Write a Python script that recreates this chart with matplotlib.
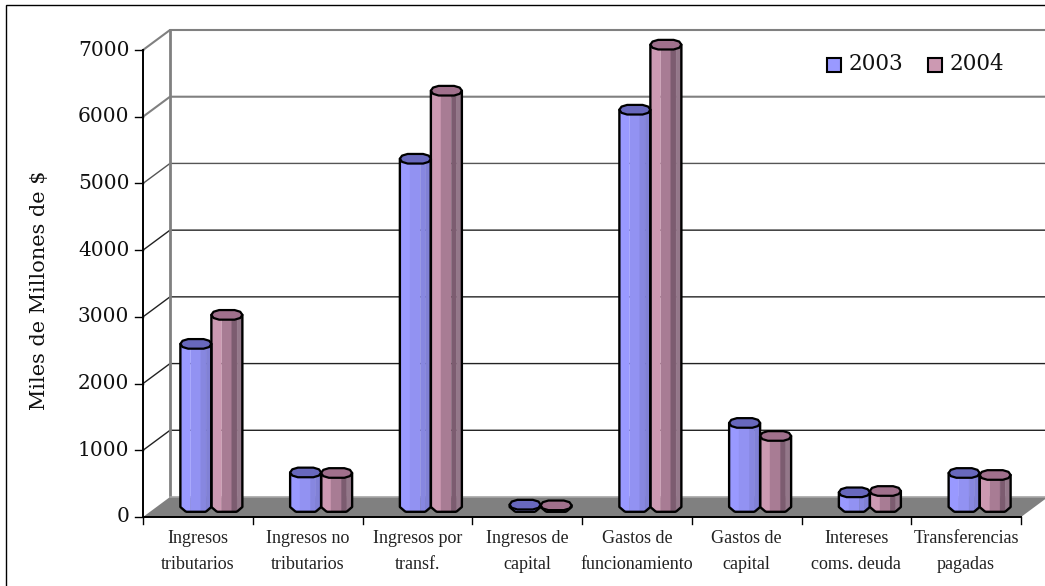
#Recreate the 3D cylinder bar chart (ingresos y gastos 2003-2004) with plain matplotlib
import numpy as np
import matplotlib
matplotlib.use('Agg')
import matplotlib.pyplot as plt
from matplotlib.patches import Polygon, Rectangle

categories = ['Ingresos\ntributarios', 'Ingresos no\ntributarios', 'Ingresos por\ntransf.',
              'Ingresos de\ncapital', 'Gastos de\nfuncionamiento', 'Gastos de\ncapital',
              'Intereses\ncoms. deuda', 'Transferencias\npagadas']
values_2003 = [2445, 518, 5220, 35, 5955, 1260, 220, 510]
values_2004 = [2880, 510, 6240, 25, 6930, 1065, 240, 480]
y_ticks = [0, 1000, 2000, 3000, 4000, 5000, 6000, 7000]

W, H = 1045, 586
# bands go left to right round the cylinder
band_edges = [0, 0.33, 0.66, 0.83, 1]
blue_shades = ['#9999ff', '#9292f2', '#8787e0', '#8181d6']
pink_shades = ['#cc99b2', '#a87c94', '#7c5c70', '#94788a']
blue_top = '#6868bd'
pink_top = '#a0708c'

fig = plt.figure(figsize=(W / 100, H / 100), dpi=100)
# axes cover the front plane of the box, in px: x 143-1021, y 50-517
ax = fig.add_axes([143 / W, 1 - 517 / H, 878 / W, 467 / H])
ax.set_xlim(0, 8)
ax.set_ylim(0, 7000)
ax.axis('off')

# depth of the box in data units
dx = 27 * 8 / 878
dy = 20 * 7000 / 467

# frame round the chart, runs off the right and bottom of the picture
fig.add_artist(Rectangle((6 / W, -20 / H), 1100 / W, 601 / H, fill=False, ec='black', lw=1,
                         transform=fig.transFigure))

# back wall and side wall lines
for t in y_ticks[1:]:
    col = '#808080' if t >= 6000 else ('#555555' if t == 5000 else '#222222')
    lw = 1.5 if t >= 6000 else 1
    ax.plot([0, dx, 8 + dx], [t, t + dy, t + dy], color=col, lw=lw, clip_on=False, zorder=1)
ax.plot([dx, dx], [dy, 7000 + dy], color='#808080', lw=2, clip_on=False, zorder=1)

# floor
ax.add_patch(Polygon([(0, 0), (8, 0), (8 + dx, dy), (dx, dy)], fc='#808080', ec='none',
                     clip_on=False, zorder=2))
ax.plot([dx, 8 + dx], [dy, dy], color='#a6a6a6', lw=1.2, clip_on=False, zorder=2)

# axis lines and ticks
ax.plot([0, 0], [0, 7000], color='black', lw=1.4, clip_on=False, zorder=3)
ax.plot([0, 8], [0, 0], color='black', lw=1.4, clip_on=False, zorder=3)
tick_dx = 8 * 8 / 878
tick_dy = 7 * 7000 / 467
for t in y_ticks:
    ax.plot([-tick_dx, 0], [t, t], color='black', lw=1, clip_on=False, zorder=3)
    ax.text(-0.125, t, str(t), ha='right', va='center', family='DejaVu Serif', fontsize=14.5, color='#111111')
for i in range(9):
    ax.plot([i, i], [0, -tick_dy], color='black', lw=1, clip_on=False, zorder=3)
for i, name in enumerate(categories):
    ax.text(i + 0.5, -195, name, ha='center', va='top', family='Liberation Serif', fontsize=13,
            color='#222222', linespacing=1.72)

bar_w = 31 * 8 / 878
ry = 72


def sag(f):
    # chamfered bottom edge, f runs 0-1 across the bar
    return ry * np.minimum(1, (1 - np.abs(2 * f - 1)) / 0.36)


def draw_cylinder(left, value, shades, top_color):
    base = dy / 2
    for i, shade in enumerate(shades):
        f = np.linspace(band_edges[i], band_edges[i + 1], 6)
        xs = left + f * bar_w
        low = base - sag(f)
        poly = list(zip(xs, low)) + list(zip(xs[::-1], (low + value)[::-1]))
        ax.add_patch(Polygon(poly, fc=shade, ec=shade, lw=0.3, clip_on=False, zorder=5))
    # outline of the body
    f = np.linspace(0, 1, 26)
    outline = list(zip(left + f * bar_w, base - sag(f))) + [(left + bar_w, base + value), (left, base + value)]
    ax.add_patch(Polygon(outline, fill=False, ec='black', lw=1.7, joinstyle='round', clip_on=False, zorder=6))
    # lid, coarse polygon as in the original
    lid_f = np.array([0, 0.07, 0.25, 0.75, 0.93, 1, 0.93, 0.75, 0.25, 0.07])
    lid_y = np.array([0, 0.65, 1, 1, 0.65, 0, -0.65, -1, -1, -0.65]) * ry
    lid = np.column_stack([left + lid_f * bar_w, base + value + lid_y])
    ax.add_patch(Polygon(lid, fc=top_color, ec='black', lw=1.6, joinstyle='round', clip_on=False, zorder=7))


group_offset = dx / 2
for i in range(len(categories)):
    center = i + 0.5 + group_offset
    # pink first so the blue lid sits over it like in the reference
    draw_cylinder(center, values_2004[i], pink_shades, pink_top)
    draw_cylinder(center - bar_w, values_2003[i], blue_shades, blue_top)

# legend drawn by hand to sit in px position
fig.add_artist(Rectangle((827 / W, 1 - 72 / H), 14 / W, 14 / H, fc='#9999ff', ec='black', lw=1.5,
                         transform=fig.transFigure))
fig.add_artist(Rectangle((928 / W, 1 - 72 / H), 14 / W, 14 / H, fc='#cc99b2', ec='black', lw=1.5,
                         transform=fig.transFigure))
fig.text(849 / W, 1 - 64 / H, '2003', family='DejaVu Serif', fontsize=15.5, va='center', color='#111111')
fig.text(950 / W, 1 - 64 / H, '2004', family='DejaVu Serif', fontsize=15.5, va='center', color='#111111')

fig.text(40 / W, 1 - 290 / H, 'Miles de Millones de $', rotation=90, family='DejaVu Serif', fontsize=15,
         ha='center', va='center', color='#111111')

fig.savefig('out.png', dpi=100)
